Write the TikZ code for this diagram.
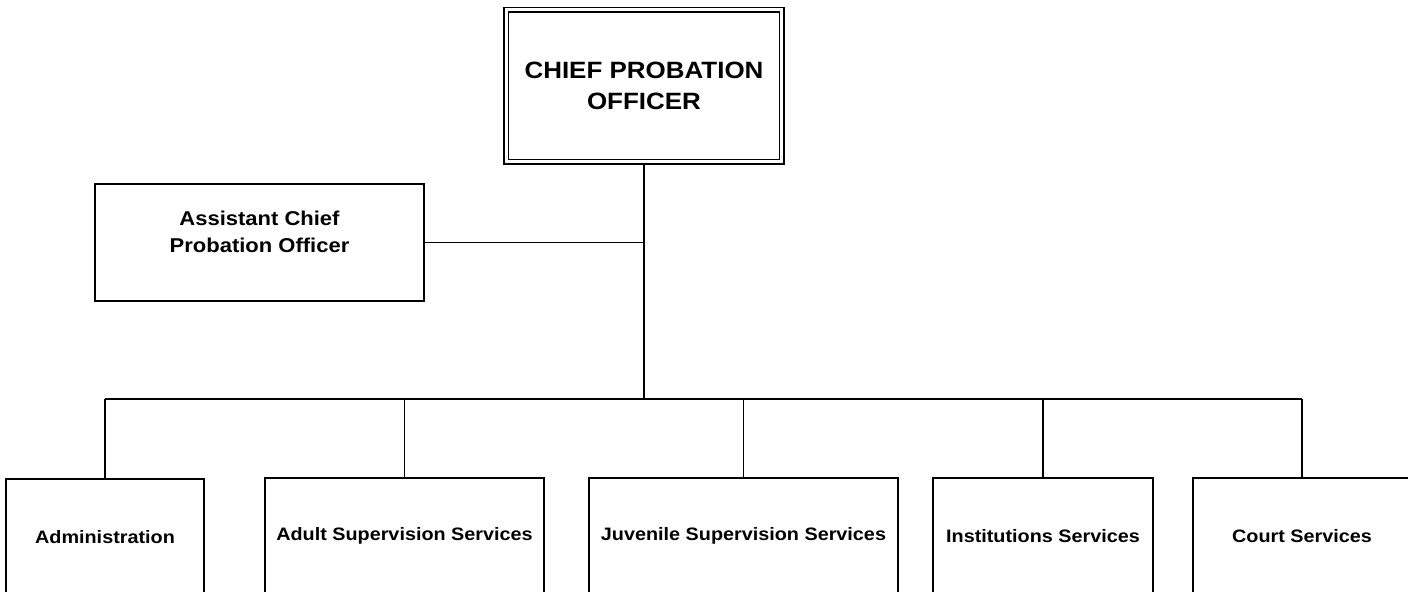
\documentclass[tikz,border=0pt]{standalone}
\usepackage{fontspec}
\setmainfont{Liberation Sans}[FakeStretch=1.1]

\begin{document}
\begin{tikzpicture}[x=0.5pt, y=-0.5pt, line width=0.8pt,
  every node/.style={draw, rectangle, inner sep=0pt, align=center},
  dept/.style={minimum width=#1, minimum height=58.5pt, anchor=north, font=\bfseries\fontsize{9}{12}\selectfont}]
\useasboundingbox (0,0) rectangle (1408,592);
\clip (0,0) rectangle (1408,592);
\node[double, double distance=1.6pt, minimum width=137.75pt, minimum height=76pt, font=\bfseries\fontsize{11.8}{15.8}\selectfont] (Chief) at (644,85.8) {CHIEF PROBATION\\OFFICER};
\node[minimum width=164.5pt, minimum height=58.5pt, text depth=10.5pt, font=\bfseries\fontsize{10}{13.3}\selectfont] (Asst) at (259.5,242.5) {Assistant Chief\\Probation Officer};
\coordinate (Bus) at (644,399);
\node[dept=99pt] (Admin) at (105,478) {Administration};
\node[dept=139.5pt] (Adult) at (404.5,477) {Adult Supervision Services};
\node[dept=154.5pt] (Juv) at (743.5,477) {Juvenile Supervision Services};
\node[dept=110pt] (Inst) at (1043,477) {Institutions Services};
\node[dept=109pt] (Court) at (1302,477) {Court Services};
\draw (Chief.south) -- (Bus);
\draw (Asst.east) -- (Asst.east -| Chief.south);
\draw (Admin.north |- Bus) -- (Court.north |- Bus);
\draw (Admin.north |- Bus) -- (Admin.north);
\draw (Adult.north |- Bus) -- (Adult.north);
\draw (Juv.north |- Bus) -- (Juv.north);
\draw (Inst.north |- Bus) -- (Inst.north);
\draw (Court.north |- Bus) -- (Court.north);
\end{tikzpicture}
\end{document}
